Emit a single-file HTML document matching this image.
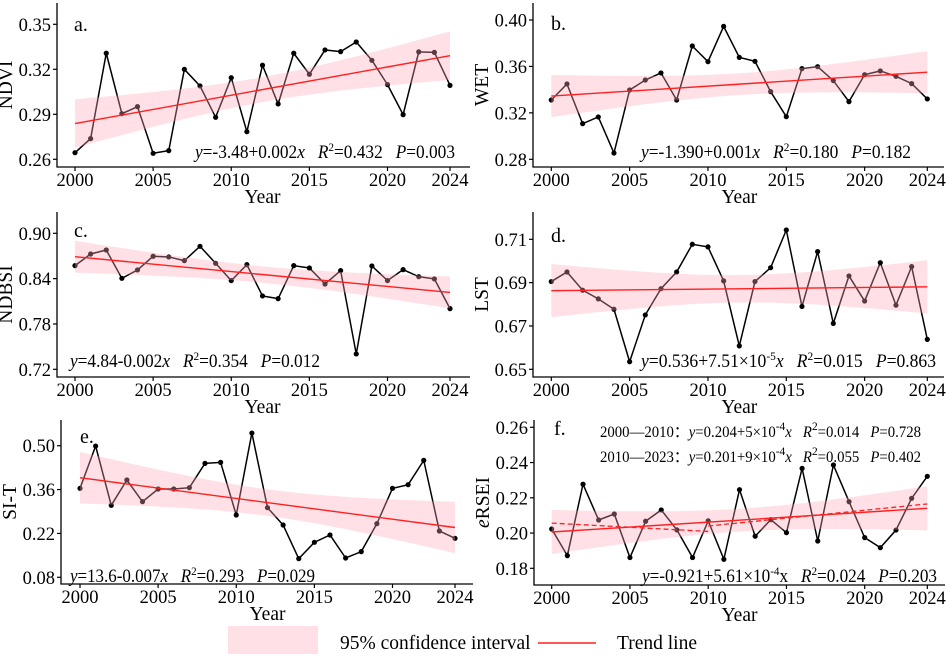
<!DOCTYPE html>
<html><head><meta charset="utf-8">
<style>
html,body{margin:0;padding:0;background:#fff;}
svg{display:block;font-family:"Liberation Serif",serif;}
.pre{white-space:pre;}
</style></head>
<body>
<svg id="chart" width="948" height="656" viewBox="0 0 948 656" xmlns="http://www.w3.org/2000/svg"></svg>
<script>
const years = [2000,2001,2002,2003,2004,2005,2006,2007,2008,2009,2010,2011,2012,2013,2014,2015,2016,2017,2018,2019,2020,2021,2022,2023,2024];
const xTicks = [2000,2005,2010,2015,2020,2024];
const ndviValues = [0.2644,0.2738,0.3307,0.2904,0.2951,0.2640,0.2658,0.3200,0.3089,0.2880,0.3144,0.2784,0.3227,0.2969,0.3307,0.3167,0.3329,0.3318,0.3382,0.3260,0.3098,0.2898,0.3316,0.3313,0.3093];
const wetValues = [0.3311,0.3449,0.3107,0.3165,0.2854,0.3397,0.3483,0.3544,0.3311,0.3776,0.3641,0.3945,0.3678,0.3644,0.3383,0.3167,0.3581,0.3598,0.3478,0.3297,0.3529,0.3561,0.3515,0.3452,0.3320];
const ndbsiValues = [0.8572,0.8726,0.8779,0.8404,0.8515,0.8696,0.8687,0.8638,0.8828,0.8603,0.8374,0.8585,0.8171,0.8135,0.8572,0.8541,0.8329,0.8506,0.7403,0.8568,0.8374,0.8519,0.8426,0.8396,0.8003];
const lstValues = [0.6905,0.6949,0.6865,0.6825,0.6777,0.6535,0.6751,0.6872,0.6949,0.7077,0.7065,0.6908,0.6608,0.6905,0.6969,0.7143,0.6790,0.7043,0.6712,0.6931,0.6815,0.6992,0.6796,0.6974,0.6638];
const sitValues = [0.3639,0.4989,0.3097,0.3905,0.3214,0.3618,0.3618,0.3660,0.4436,0.4468,0.2788,0.5404,0.3022,0.2469,0.1395,0.1916,0.2150,0.1416,0.1619,0.2512,0.3639,0.3756,0.4532,0.2278,0.2044];
const ersiValues = [0.2023,0.1872,0.2277,0.2074,0.2108,0.1861,0.2067,0.2131,0.2018,0.1861,0.2069,0.1851,0.2246,0.1982,0.2076,0.2002,0.2367,0.1955,0.2386,0.2178,0.1974,0.1917,0.2017,0.2197,0.2322];
const ndviTicks = [0.26,0.29,0.32,0.35];
const wetTicks = [0.28,0.32,0.36,0.40];
const ndbsiTicks = [0.72,0.78,0.84,0.90];
const lstTicks = [0.65,0.67,0.69,0.71];
const sitTicks = [0.08,0.22,0.36,0.50];
const ersiTicks = [0.18,0.20,0.22,0.24,0.26];

const NS="http://www.w3.org/2000/svg";
const svg=document.getElementById('chart');
function mk(tag,attrs,parent){const e=document.createElementNS(NS,tag);for(const k in attrs)e.setAttribute(k,attrs[k]);(parent||svg).appendChild(e);return e;}

function fit(xs,ys){const n=xs.length;let mx=0,my=0;for(let i=0;i<n;i++){mx+=xs[i];my+=ys[i];}mx/=n;my/=n;let sxx=0,sxy=0;for(let i=0;i<n;i++){sxx+=(xs[i]-mx)**2;sxy+=(xs[i]-mx)*(ys[i]-my);}const b=sxy/sxx,a=my-b*mx;let sse=0;for(let i=0;i<n;i++)sse+=(ys[i]-a-b*xs[i])**2;const s=Math.sqrt(sse/(n-2));return{a,b,mx,sxx,s,n};}

function panel(p){
  const g=mk('g',{});
  
  
  const X=v=>p.x0+(v-2000)/24*(p.x1-p.x0);
  const Y=v=>p.yA+(v-p.vA)/(p.vB-p.vA)*(p.yB-p.yA);
  const ax=mk('path',{d:`M${p.left},${p.top}V${p.bottom}H${p.right}`,fill:'none',stroke:'#000','stroke-width':1.3},g);
  
  
  xTicks.forEach(t=>{
    mk('line',{x1:X(t),x2:X(t),y1:p.bottom,y2:p.bottom+4,stroke:'#000','stroke-width':1.2},g);
    const tx=mk('text',{x:X(t),y:p.bottom+19,'text-anchor':'middle','font-size':18.5},g);
    tx.textContent=t;
    
    
  });
  p.ticks.forEach(t=>{
    mk('line',{x1:p.left-4,x2:p.left,y1:Y(t),y2:Y(t),stroke:'#000','stroke-width':1.2},g);
    const tx=mk('text',{x:p.left-6,y:Y(t)+6.5,'text-anchor':'end','font-size':18.5},g);
    tx.textContent=t.toFixed(2);
    
    
  });
  const xt=mk('text',{x:(p.x0+p.x1)/2,y:p.bottom+36,'text-anchor':'middle','font-size':19.5},g);
  xt.textContent='Year';
  
  
  const yc=(p.top+p.bottom)/2;
  const yx=p.left-45;
  const yt=mk('text',{x:yx,y:yc,'text-anchor':'middle','font-size':19.5,transform:`rotate(-90 ${yx} ${yc})`},g);
  if(p.italicFirst){const s=mk('tspan',{'font-style':'italic'},yt);s.textContent='e';const r=mk('tspan',{},yt);r.textContent='RSEI';}
  else yt.textContent=p.title;
  
  
  const vals=p.values;
  const line=mk('polyline',{points:years.map((y,i)=>X(y)+','+Y(vals[i])).join(' '),fill:'none',stroke:'#000','stroke-width':1.5},g);
  
  
  years.forEach((y,i)=>{
    const c=mk('circle',{cx:X(y),cy:Y(vals[i]),r:2.6,fill:'#000'},g);
    
    
  });
  const f=fit(years,vals);const tq=2.069;
  const up=[],lo=[];
  for(let yr=2000;yr<=2024;yr+=0.5){const m=f.a+f.b*yr;const h=tq*f.s*Math.sqrt(1/f.n+(yr-f.mx)**2/f.sxx);up.push(X(yr)+','+Y(m+h));lo.unshift(X(yr)+','+Y(m-h));}
  const band=mk('polygon',{points:up.concat(lo).join(' '),fill:'rgb(255,165,183)','fill-opacity':0.35},g);
  
  
  if(p.dashed){
    [[0,11],[10,25]].forEach(([s,e])=>{
      const ff=fit(years.slice(s,e),vals.slice(s,e));
      const x1=years[s],x2=years[e-1];
      const dl=mk('line',{x1:X(x1),y1:Y(ff.a+ff.b*x1),x2:X(x2),y2:Y(ff.a+ff.b*x2),stroke:'#ff2020','stroke-width':1.3,'stroke-dasharray':'5,3'},g);
      
      
    });
  }
  const tl=mk('line',{x1:X(2000),y1:Y(f.a+f.b*2000),x2:X(2024),y2:Y(f.a+f.b*2024),stroke:'#ff2020','stroke-width':1.4},g);
  
  
  const lb=mk('text',{x:p.lx,y:p.ly,'font-size':20},g);
  lb.textContent=p.label;
  
  
  p.ann.forEach(a=>{
    const t=mk('text',{x:a.x,y:a.y,'font-size':a.fs||18.5,textLength:a.w,lengthAdjust:'spacingAndGlyphs','class':'pre'},g);
    t.innerHTML=a.html;
    
    
  });
}
const sup=s=>`<tspan dy="-7" font-size="12">${s}</tspan><tspan dy="7">`;
panel({name:'ndvi',title:'NDVI',values:ndviValues,ticks:ndviTicks,x0:75,x1:450,vA:0.35,yA:24.3,vB:0.26,yB:159.3,left:57,top:3,bottom:167,right:470,label:'a.',lx:74,ly:31,
  ann:[{x:195,y:158,w:260,html:`<tspan font-style="italic">y</tspan>=-3.48+0.002<tspan font-style="italic">x</tspan>   <tspan font-style="italic">R</tspan>${sup(2)}=0.432   <tspan font-style="italic">P</tspan>=0.003</tspan>`}]});
panel({name:'wet',title:'WET',values:wetValues,ticks:wetTicks,x0:551.3,x1:927.3,vA:0.40,yA:20,vB:0.28,yB:159.3,left:533,top:3,bottom:167,right:944,label:'b.',lx:551,ly:30,
  ann:[{x:641,y:158,w:270,html:`<tspan font-style="italic">y</tspan>=-1.390+0.001<tspan font-style="italic">x</tspan>   <tspan font-style="italic">R</tspan>${sup(2)}=0.180   <tspan font-style="italic">P</tspan>=0.182</tspan>`}]});
panel({name:'ndbsi',title:'NDBSI',values:ndbsiValues,ticks:ndbsiTicks,x0:75,x1:450,vA:0.90,yA:233.3,vB:0.72,yB:369.3,left:57,top:212,bottom:377,right:470,label:'c.',lx:74,ly:237,
  ann:[{x:70,y:367,w:250,html:`<tspan font-style="italic">y</tspan>=4.84-0.002<tspan font-style="italic">x</tspan>   <tspan font-style="italic">R</tspan>${sup(2)}=0.354   <tspan font-style="italic">P</tspan>=0.012</tspan>`}]});
panel({name:'lst',title:'LST',values:lstValues,ticks:lstTicks,x0:551.3,x1:927.3,vA:0.71,yA:239.3,vB:0.65,yB:369.3,left:533,top:212,bottom:377,right:944,label:'d.',lx:551,ly:242,
  ann:[{x:641,y:367,w:295,html:`<tspan font-style="italic">y</tspan>=0.536+7.51×10${sup('-5')}<tspan font-style="italic">x</tspan>   <tspan font-style="italic">R</tspan>${sup(2)}=0.015   <tspan font-style="italic">P</tspan>=0.863</tspan></tspan>`}]});
panel({name:'si-t',title:'SI-T',values:sitValues,ticks:sitTicks,x0:80,x1:455,vA:0.50,yA:445.7,vB:0.08,yB:577.3,left:61,top:420,bottom:584,right:473,label:'e.',lx:80,ly:443,
  ann:[{x:70,y:582,w:245,html:`<tspan font-style="italic">y</tspan>=13.6-0.007<tspan font-style="italic">x</tspan>   <tspan font-style="italic">R</tspan>${sup(2)}=0.293   <tspan font-style="italic">P</tspan>=0.029</tspan>`}]});
panel({name:'ersei',title:'eRSEI',italicFirst:true,dashed:true,values:ersiValues,ticks:ersiTicks,x0:551.7,x1:927.3,vA:0.26,yA:427.3,vB:0.18,yB:568.3,left:534,top:420,bottom:585,right:945,label:'f.',lx:554,ly:435,
  ann:[{x:642,y:582,w:295,html:`<tspan font-style="italic">y</tspan>=-0.921+5.61×10${sup('-4')}x   <tspan font-style="italic">R</tspan>${sup(2)}=0.024   <tspan font-style="italic">P</tspan>=0.203</tspan></tspan>`},
       {x:600,y:437,w:321,fs:15.5,html:`2000—2010：<tspan font-style="italic">y</tspan>=0.204+5×10${sup('-4')}<tspan font-style="italic">x</tspan>   <tspan font-style="italic">R</tspan>${sup(2)}=0.014   <tspan font-style="italic">P</tspan>=0.728</tspan></tspan>`},
       {x:600,y:462,w:321,fs:15.5,html:`2010—2023：<tspan font-style="italic">y</tspan>=0.201+9×10${sup('-4')}<tspan font-style="italic">x</tspan>   <tspan font-style="italic">R</tspan>${sup(2)}=0.055   <tspan font-style="italic">P</tspan>=0.402</tspan></tspan>`}]});
const lg=mk('g',{});


const lr=mk('rect',{x:228,y:626,width:90,height:28,fill:'rgb(255,224,230)'},lg);


const lt1=mk('text',{x:340,y:649,'font-size':19.5},lg);lt1.textContent='95% confidence interval';


const ll=mk('line',{x1:538,x2:596,y1:643,y2:643,stroke:'#ff2020','stroke-width':1.5},lg);


const lt2=mk('text',{x:617,y:649,'font-size':19.5},lg);lt2.textContent='Trend line';


</script>
</body></html>
